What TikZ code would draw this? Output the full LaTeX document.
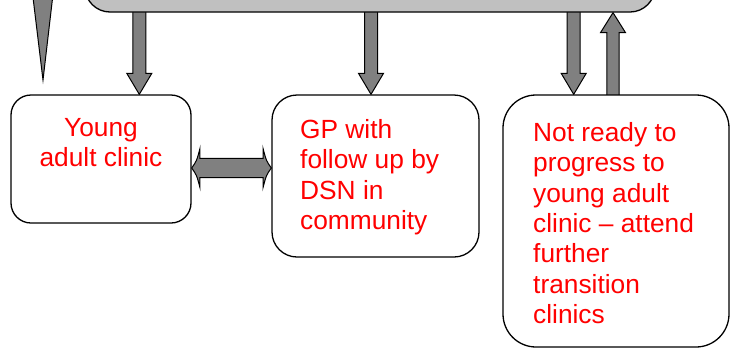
\documentclass[tikz,border=0pt]{standalone}
\usepackage{fontspec}
\setmainfont{Liberation Sans}
\usetikzlibrary{calc,backgrounds}
\definecolor{panelgray}{HTML}{C0C0C0}
\definecolor{arrowgray}{HTML}{808080}
\definecolor{textred}{HTML}{FF0000}

% block arrow pointing down from #1 to #2 (x taken from #1)
\newcommand\blockdown[2]{%
  \draw[blk] let \p1=(#1), \p2=(#2) in
    (\x1-6.5pt,\y1) -- (\x1+6.5pt,\y1) -- (\x1+6.5pt,\y2+21pt) --
    (\x1+12.5pt,\y2+21pt) -- (\x1,\y2) -- (\x1-12.5pt,\y2+21pt) --
    (\x1-6.5pt,\y2+21pt) -- cycle;}
% block arrow pointing up from #1 to #2
\newcommand\blockup[2]{%
  \draw[blk] let \p1=(#1), \p2=(#2) in
    (\x1-6.2pt,\y1) -- (\x1+6.2pt,\y1) -- (\x1+6.2pt,\y2-20pt) --
    (\x1+12.5pt,\y2-20pt) -- (\x1,\y2) -- (\x1-12.5pt,\y2-20pt) --
    (\x1-6.2pt,\y2-20pt) -- cycle;}
% horizontal double-headed block arrow from #1 to #2, slightly hollow heads
\newcommand\blockboth[2]{%
  \draw[blk] let \p1=(#1), \p2=(#2) in
    (\x1,\y1) .. controls (\x1+5pt,\y1+7pt) .. (\x1+8.3pt,\y1+19.5pt) --
    (\x1+8.3pt,\y1+9.7pt) -- (\x2-8.3pt,\y1+9.7pt) -- (\x2-8.3pt,\y1+19.5pt)
    .. controls (\x2-5pt,\y1+7pt) .. (\x2,\y1)
    .. controls (\x2-5pt,\y1-7pt) .. (\x2-8.3pt,\y1-19.5pt) --
    (\x2-8.3pt,\y1-9.7pt) -- (\x1+8.3pt,\y1-9.7pt) -- (\x1+8.3pt,\y1-19.5pt)
    .. controls (\x1+5pt,\y1-7pt) .. (\x1,\y1) -- cycle;}

\begin{document}
\begin{tikzpicture}[x=1pt,y=-1pt,
  box/.style={draw=black, line width=1.3pt, fill=white, inner sep=0pt},
  label/.style={text=textred, inner sep=0pt,
    font=\fontsize{26.3}{30.3}\selectfont},
  blk/.style={draw=black, line width=1pt, fill=arrowgray, line join=miter}]
\useasboundingbox (0,0) rectangle (731,349);

% grey panel along the top edge
\node[box, fill=panelgray, rounded corners=25pt,
      minimum width=570pt, minimum height=80pt] (panel) at (370,-28) {};

% the three outcome boxes
\node[box, rounded corners=20pt, minimum width=180pt, minimum height=128pt]
  (yac) at (101,159) {};
\node[box, rounded corners=25pt, minimum width=207pt, minimum height=162pt]
  (gp) at (375.5,176) {};
\node[box, rounded corners=33pt, minimum width=226pt, minimum height=252pt]
  (nr) at (616,221) {};

\node[label, anchor=base] (yactext) at (101,136)
  {\begin{tabular}[t]{@{}c@{}}Young\\adult clinic\end{tabular}};
\node[label, anchor=base west] (gptext) at (300,138.5)
  {\begin{tabular}[t]{@{}l@{}}GP with\\follow up by\\DSN in\\community\end{tabular}};
\node[label, anchor=base west] (nrtext) at (533,141.5)
  {\begin{tabular}[t]{@{}l@{}}Not ready to\\progress to\\young adult\\clinic – attend\\further\\transition\\clinics\end{tabular}};

% anchor points for the connectors
\coordinate (c1) at (139.3,0);
\coordinate (c2) at (371,0);
\coordinate (c3) at (573.7,0);
\coordinate (c4) at (613,0);
\coordinate (midrow) at (0,168);
\coordinate (spiketip) at (43,80);

\begin{pgfonlayer}{background}
  \draw[blk] (32.1,-10) -- (53.5,-10) -- (spiketip) -- cycle;
  \blockdown{c1 |- panel.center}{c1 |- yac.north}
  \blockdown{c2 |- panel.center}{c2 |- gp.north}
  \blockdown{c3 |- panel.center}{c3 |- nr.north}
  \blockup{c4 |- nr.center}{c4 |- panel.south}
  \blockboth{yac.east |- midrow}{gp.west |- midrow}
\end{pgfonlayer}
\end{tikzpicture}
\end{document}
